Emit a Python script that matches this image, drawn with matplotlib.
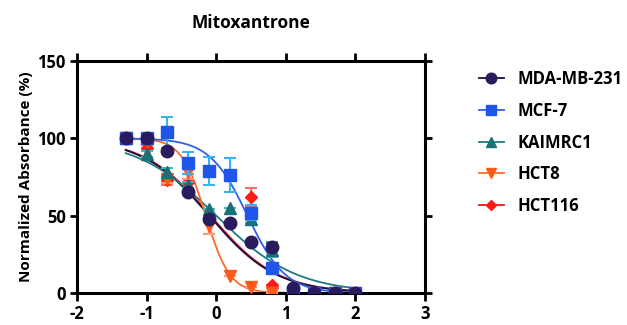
import numpy as np
import matplotlib
matplotlib.use("Agg")
import matplotlib.pyplot as plt

plt.rcParams['font.family'] = ['Open Sans', 'DejaVu Sans']
plt.rcParams['font.weight'] = 'bold'
plt.rcParams['axes.unicode_minus'] = False

# log10 concentration
log_conc = [-1.3, -1.0, -0.7, -0.4, -0.1, 0.2, 0.5, 0.8, 1.1, 1.4, 1.7, 2.0]

mda_mb_231 = [100, 100, 92, 65, 48, 45, 33, 30, 3, 0, 0, 0]
mcf_7 = [100, 100, 104, 84, 79, 76, 52, 16, 0, 0, 0, 0]
kaimrc1 = [100, 90, 78, 70, 54, 55, 48, 28, 0, 0, 0, 0]
hct8 = [100, 98, 74, 78, 43, 11, 4, 0, 0, 0, 0, 0]
hct116 = [100, 94, 73, 72, 48, 45, 62, 5, -2, 0, 0, 0]

mda_err = [0, 2, 0, 0, 0, 0, 0, 2, 0, 0, 0, 0]
mcf_err = [0, 2, 10, 7, 9, 11, 5, 2, 0, 0, 0, 0]
kai_err = [0, 2, 3, 2, 0, 0, 3, 5, 0, 0, 0, 0]
hct8_err = [0, 0, 3, 4, 5, 0, 0, 0, 0, 0, 0, 0]
hct116_err = [0, 2, 3, 0, 0, 0, 6, 0, 0, 0, 0, 0]

# fitted 4PL parameters (logIC50, hill slope)
fit_logic50 = [-0.1, 0.45, 0.0, -0.15, -0.08]
fit_hill = [0.9, 1.6, 0.75, 2.5, 0.9]

names = ['MDA-MB-231', 'MCF-7', 'KAIMRC1', 'HCT8', 'HCT116']
values = [mda_mb_231, mcf_7, kaimrc1, hct8, hct116]
errors = [mda_err, mcf_err, kai_err, hct8_err, hct116_err]
markers = ['o', 's', '^', 'v', 'D']
msizes = [9, 8, 8.5, 8.5, 6.5]
colors = ['#2a1a5e', '#1f55e8', '#1b6f78', '#ff5a1a', '#ff1a1a']
line_colors = ['#1a1040', '#2e62e6', '#1f7a80', '#ff6a2a', '#e01a1a']
err_colors = ['#5a4a8e', '#36b4f2', '#40b8c0', '#ff9a7a', '#ff6a6a']

fig = plt.figure(figsize=(6.27, 3.25), dpi=100)
ax = fig.add_axes([0.1228, 0.0985, 0.555, 0.7138])

xs = np.linspace(-1.3, 2.0, 300)
draw_order = [4, 0, 2, 3, 1]
for i in draw_order:
    ys = 100 / (1 + 10 ** ((xs - fit_logic50[i]) * fit_hill[i]))
    ax.plot(xs, ys, color=line_colors[i], lw=1.3, zorder=2)
for i in [4, 3, 2, 1, 0]:
    ax.errorbar(log_conc, values[i], yerr=errors[i], fmt=markers[i], ms=msizes[i],
                color=colors[i], mec=colors[i], ecolor=err_colors[i], elinewidth=1.5,
                capsize=4, capthick=1.5, zorder=3 + (4 - i))

ax.set_xlim(-2, 3)
ax.set_ylim(0, 150)
ax.set_xticks([-2, -1, 0, 1, 2, 3])
ax.set_yticks([0, 50, 100, 150])
for s in ax.spines.values():
    s.set_linewidth(2.2)
ax.tick_params(which='both', direction='out', width=2, length=5, labelsize=12,
               top=True, right=True, labeltop=False, labelright=False, pad=3)
ax.tick_params(axis='x', length=6)
ax.set_ylabel('Normalized Absorbance (%)', fontsize=11, fontweight='bold', labelpad=3)
ax.set_title('Mitoxantrone', fontsize=12.5, fontweight='bold', pad=24)

handles = []
for i in range(5):
    h, = ax.plot([], [], marker=markers[i], ms=msizes[i] * 0.85, color=line_colors[i],
                 mfc=colors[i], mec=colors[i], lw=1.3)
    handles.append(h)
fig.legend(handles, names, loc='upper left', bbox_to_anchor=(0.74, 0.83),
           frameon=False, handlelength=1.5, labelspacing=0.82,
           handletextpad=0.8, prop={'weight': 'bold', 'size': 12})

fig.savefig('out.png', dpi=100)
